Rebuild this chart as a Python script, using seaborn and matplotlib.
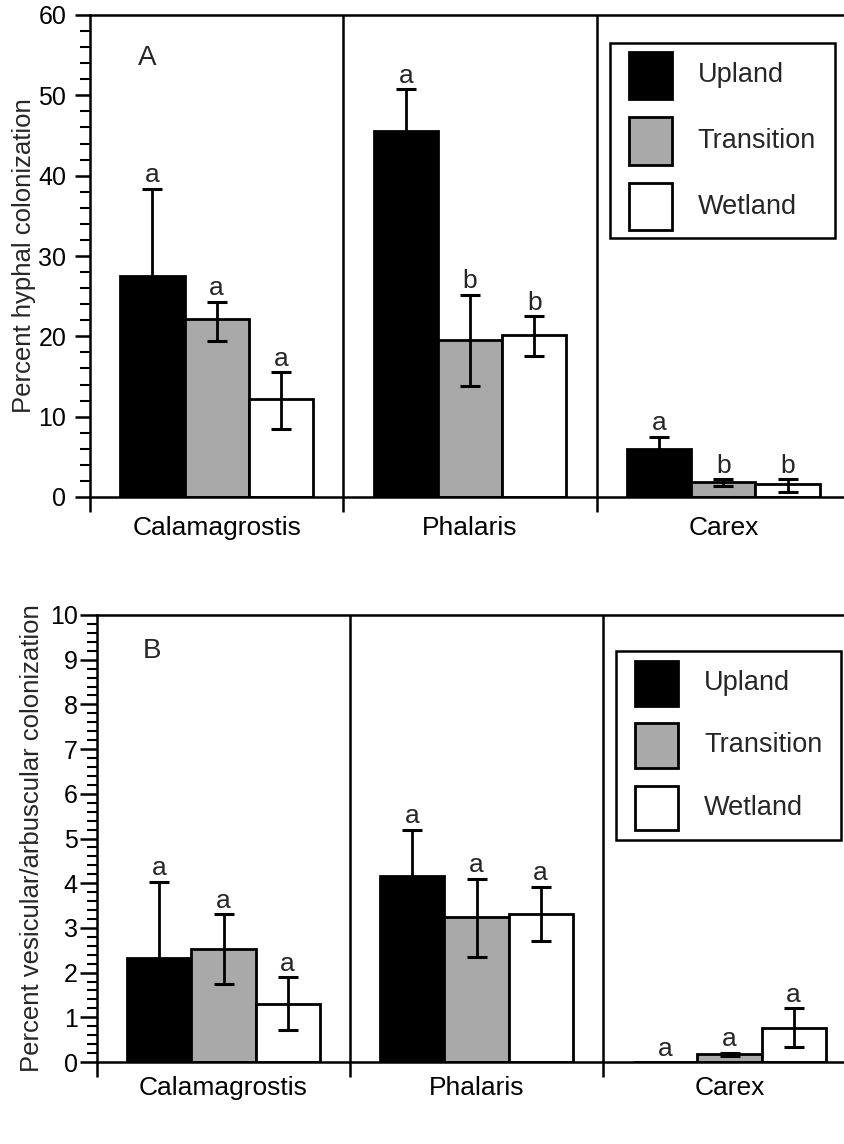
import matplotlib
matplotlib.use("Agg")
import matplotlib.pyplot as plt
import seaborn as sns
import pandas as pd
import numpy as np
from matplotlib.ticker import MultipleLocator, FixedLocator
from matplotlib.patches import Rectangle
from matplotlib.legend_handler import HandlerPatch

species = ['Calamagrostis', 'Phalaris', 'Carex']
habitats = ['Upland', 'Transition', 'Wetland']

# panel A - percent hyphal colonization
a_mean = {'Upland': [27.5, 45.5, 6.0], 'Transition': [22.1, 19.5, 1.9], 'Wetland': [12.2, 20.2, 1.6]}
a_hi = {'Upland': [38.4, 50.8, 7.5], 'Transition': [24.3, 25.2, 2.2], 'Wetland': [15.5, 22.5, 2.2]}
a_lo = {'Upland': [16.6, 40.2, 4.5], 'Transition': [19.4, 13.8, 1.4], 'Wetland': [8.5, 17.6, 0.6]}
a_let = {'Upland': ['a', 'a', 'a'], 'Transition': ['a', 'b', 'b'], 'Wetland': ['a', 'b', 'b']}

# panel B - percent vesicular/arbuscular colonization
b_mean = {'Upland': [2.33, 4.15, 0.0], 'Transition': [2.52, 3.25, 0.17], 'Wetland': [1.3, 3.32, 0.77]}
b_hi = {'Upland': [4.03, 5.2, np.nan], 'Transition': [3.3, 4.1, 0.21], 'Wetland': [1.9, 3.92, 1.2]}
b_lo = {'Upland': [0.65, 3.1, np.nan], 'Transition': [1.75, 2.35, 0.13], 'Wetland': [0.72, 2.7, 0.33]}
b_let = {'Upland': ['a', 'a', 'a'], 'Transition': ['a', 'a', 'a'], 'Wetland': ['a', 'a', 'a']}

colors = ['black', '#a9a9a9', 'white']

sns.set_style('ticks')
plt.rcParams['font.family'] = ['Liberation Sans', 'DejaVu Sans']


def make_df(mean):
    rows = []
    for h in habitats:
        for s, v in zip(species, mean[h]):
            rows.append({'species': s, 'habitat': h, 'value': v})
    return pd.DataFrame(rows)


def big_box(size_pt):
    # square legend key, taller than the text row
    def make(legend, orig_handle, xdescent, ydescent, width, height, fontsize):
        cy = -ydescent + 0.25 * fontsize
        return Rectangle((-xdescent, cy - size_pt / 2), width, size_pt)
    return HandlerPatch(patch_func=make)


def panel(ax, mean, hi, lo, letters, ymax, major, minor, ylabel, letter, leg_anchor,
          leg_spacing, key_pt, xpad, ylpad, major_len, tpad):
    df = make_df(mean)
    sns.barplot(data=df, x='species', y='value', hue='habitat', palette=colors, width=0.76,
                edgecolor='black', linewidth=2, errorbar=None, saturation=1, ax=ax)
    for i, h in enumerate(habitats):
        bars = ax.containers[i]
        xs = np.array([b.get_x() + b.get_width() / 2 for b in bars])
        m = np.array(mean[h])
        up = np.array(hi[h])
        dn = np.array(lo[h])
        ok = ~np.isnan(up)
        ax.errorbar(xs[ok], m[ok], yerr=[m[ok] - dn[ok], up[ok] - m[ok]], fmt='none',
                    ecolor='black', elinewidth=2, capsize=7, capthick=2.2, zorder=3)
        tops = np.where(ok, up, m)
        for x, t, s in zip(xs, tops, letters[h]):
            ax.annotate(s, (x, t), xytext=(0, 1), textcoords='offset points',
                        ha='center', va='bottom', fontsize=19)

    ax.set_xlim(-0.5, 2.5)
    ax.set_ylim(0, ymax)
    ax.axvline(0.5, color='black', lw=1.8)
    ax.axvline(1.5, color='black', lw=1.8)
    for sp in ['left', 'bottom', 'top']:
        ax.spines[sp].set_linewidth(1.8)
        ax.spines[sp].set_color('black')
    ax.spines['right'].set_visible(False)

    ax.yaxis.set_major_locator(MultipleLocator(major))
    ax.yaxis.set_minor_locator(MultipleLocator(minor))
    ax.tick_params(axis='y', which='major', direction='out', length=major_len, width=1.8,
                   labelsize=18, pad=tpad, colors='black')
    ax.tick_params(axis='y', which='minor', direction='out', length=7, width=1.5, colors='black')
    ax.xaxis.set_minor_locator(FixedLocator([-0.5, 0.5, 1.5]))
    ax.tick_params(axis='x', which='major', length=0, labelsize=19, pad=xpad, colors='black')
    ax.tick_params(axis='x', which='minor', direction='out', length=11, width=1.8, colors='black')

    ax.set_xlabel('')
    ax.set_ylabel(ylabel, fontsize=18.5, labelpad=ylpad)
    ax.text(letter[1], letter[2], letter[0], transform=ax.transAxes, fontsize=20,
            ha='center', va='center')

    old = ax.get_legend()
    handles = old.legend_handles
    labels = [t.get_text() for t in old.get_texts()]
    for hd in handles:
        hd.set_edgecolor('black')
        hd.set_linewidth(2)
    leg = ax.legend(handles, labels, loc='upper left', bbox_to_anchor=leg_anchor, fontsize=19.5,
                    frameon=True, fancybox=False, edgecolor='black', framealpha=1,
                    handlelength=1.6, handleheight=0.7, labelspacing=leg_spacing,
                    handletextpad=0.95, borderpad=0.7, borderaxespad=0,
                    handler_map={h: big_box(key_pt) for h in handles})
    leg.get_frame().set_linewidth(1.8)


fig = plt.figure(figsize=(8.44, 11.44), dpi=100)
ax1 = fig.add_axes([90 / 844, 647 / 1144, 760 / 844, 482 / 1144])
ax2 = fig.add_axes([97 / 844, 82 / 1144, 759 / 844, 447 / 1144])

panel(ax1, a_mean, a_hi, a_lo, a_let, 60, 10, 2, 'Percent hyphal colonization',
      ('A', 0.075, 0.911), (0.684, 0.942), 1.47, 34, 14, 2, 11, 6)
panel(ax2, b_mean, b_hi, b_lo, b_let, 10, 1, 0.2, 'Percent vesicular/arbuscular colonization',
      ('B', 0.072, 0.919), (0.684, 0.919), 1.34, 32, 10, 4, 12, 2)

fig.savefig('out.png', dpi=100)
